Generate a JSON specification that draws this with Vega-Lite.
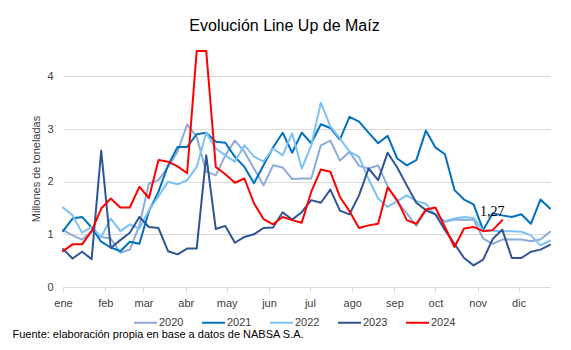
{
  "$schema": "https://vega.github.io/schema/vega-lite/v6.json",
  "width": 487,
  "height": 237,
  "autosize": {"type": "none"},
  "padding": {"left": 63, "top": 50, "right": 21, "bottom": 63},
  "background": "white",
  "config": {
    "font": "Liberation Sans",
    "view": {"stroke": null},
    "axis": {"labelFont": "Liberation Sans", "labelFontSize": 11, "labelColor": "#404040", "titleFont": "Liberation Sans", "titleFontWeight": "normal"},
    "legend": {"labelFont": "Liberation Sans", "labelFontSize": 11, "labelColor": "#404040"}
  },
  "title": {
    "text": "Evolución Line Up de Maíz",
    "font": "Liberation Sans",
    "fontSize": 16,
    "fontWeight": "normal",
    "color": "#000000",
    "anchor": "middle",
    "frame": "group",
    "baseline": "alphabetic",
    "dx": -22,
    "offset": 3
  },
  "data": {
    "values": [
      {"fecha": "2023-01-01", "2020": 1.08, "2021": 1.06, "2022": 1.51, "2023": 0.72, "2024": 0.68},
      {"fecha": "2023-01-08", "2020": 0.98, "2021": 1.30, "2022": 1.36, "2023": 0.54, "2024": 0.81},
      {"fecha": "2023-01-15", "2020": 0.90, "2021": 1.33, "2022": 1.03, "2023": 0.67, "2024": 0.81},
      {"fecha": "2023-01-22", "2020": 1.06, "2021": 1.13, "2022": 1.14, "2023": 0.53, "2024": 1.06},
      {"fecha": "2023-01-29", "2020": 0.95, "2021": 0.86, "2022": 0.95, "2023": 2.59, "2024": 1.49},
      {"fecha": "2023-02-05", "2020": 0.92, "2021": 0.75, "2022": 1.30, "2023": 0.74, "2024": 1.68},
      {"fecha": "2023-02-12", "2020": 0.65, "2021": 0.68, "2022": 1.06, "2023": 0.89, "2024": 1.51},
      {"fecha": "2023-02-19", "2020": 0.71, "2021": 0.86, "2022": 1.19, "2023": 1.03, "2024": 1.51},
      {"fecha": "2023-02-26", "2020": 1.17, "2021": 0.82, "2022": 1.11, "2023": 1.33, "2024": 1.90},
      {"fecha": "2023-03-05", "2020": 1.97, "2021": 1.44, "2022": 1.46, "2023": 1.14, "2024": 1.69},
      {"fecha": "2023-03-12", "2020": 2.03, "2021": 1.81, "2022": 1.72, "2023": 1.12, "2024": 2.41},
      {"fecha": "2023-03-19", "2020": 2.28, "2021": 2.31, "2022": 2.00, "2023": 0.68, "2024": 2.38},
      {"fecha": "2023-03-26", "2020": 2.57, "2021": 2.66, "2022": 1.95, "2023": 0.62, "2024": 2.29},
      {"fecha": "2023-04-02", "2020": 3.09, "2021": 2.66, "2022": 2.03, "2023": 0.73, "2024": 2.16},
      {"fecha": "2023-04-09", "2020": 2.85, "2021": 2.90, "2022": 2.28, "2023": 0.73, "2024": 4.48},
      {"fecha": "2023-04-16", "2020": 2.19, "2021": 2.93, "2022": 2.93, "2023": 2.50, "2024": 4.48},
      {"fecha": "2023-04-23", "2020": 2.12, "2021": 2.76, "2022": 2.63, "2023": 1.10, "2024": 2.28},
      {"fecha": "2023-04-30", "2020": 2.50, "2021": 2.74, "2022": 2.50, "2023": 1.16, "2024": 2.14},
      {"fecha": "2023-05-07", "2020": 2.78, "2021": 2.47, "2022": 2.38, "2023": 0.84, "2024": 1.98},
      {"fecha": "2023-05-14", "2020": 2.57, "2021": 2.28, "2022": 2.69, "2023": 0.95, "2024": 2.06},
      {"fecha": "2023-05-21", "2020": 2.25, "2021": 1.97, "2022": 2.48, "2023": 1.00, "2024": 1.59},
      {"fecha": "2023-05-28", "2020": 1.93, "2021": 2.31, "2022": 2.38, "2023": 1.12, "2024": 1.29},
      {"fecha": "2023-06-04", "2020": 2.31, "2021": 2.65, "2022": 2.63, "2023": 1.13, "2024": 1.19},
      {"fecha": "2023-06-11", "2020": 2.27, "2021": 2.93, "2022": 2.50, "2023": 1.42, "2024": 1.33},
      {"fecha": "2023-06-18", "2020": 2.05, "2021": 2.55, "2022": 2.92, "2023": 1.28, "2024": 1.27},
      {"fecha": "2023-06-25", "2020": 2.06, "2021": 2.93, "2022": 2.25, "2023": 1.42, "2024": 1.22},
      {"fecha": "2023-07-02", "2020": 2.06, "2021": 2.73, "2022": 2.69, "2023": 1.65, "2024": 1.81},
      {"fecha": "2023-07-09", "2020": 2.69, "2021": 3.09, "2022": 3.50, "2023": 1.60, "2024": 2.23},
      {"fecha": "2023-07-16", "2020": 2.78, "2021": 3.02, "2022": 3.05, "2023": 1.85, "2024": 2.19},
      {"fecha": "2023-07-23", "2020": 2.40, "2021": 2.80, "2022": 2.82, "2023": 1.45, "2024": 1.71},
      {"fecha": "2023-07-30", "2020": 2.57, "2021": 3.23, "2022": 2.57, "2023": 1.38, "2024": 1.44},
      {"fecha": "2023-08-06", "2020": 2.30, "2021": 3.14, "2022": 2.47, "2023": 1.74, "2024": 1.12},
      {"fecha": "2023-08-13", "2020": 2.25, "2021": 2.93, "2022": 2.05, "2023": 2.25, "2024": 1.17},
      {"fecha": "2023-08-20", "2020": 2.31, "2021": 2.73, "2022": 1.68, "2023": 2.03, "2024": 1.20},
      {"fecha": "2023-08-27", "2020": 1.91, "2021": 2.87, "2022": 1.52, "2023": 2.55, "2024": 1.89},
      {"fecha": "2023-09-03", "2020": 1.62, "2021": 2.44, "2022": 1.63, "2023": 2.27, "2024": 1.65},
      {"fecha": "2023-09-10", "2020": 1.40, "2021": 2.31, "2022": 1.74, "2023": 1.93, "2024": 1.27},
      {"fecha": "2023-09-17", "2020": 1.16, "2021": 2.41, "2022": 1.63, "2023": 1.60, "2024": 1.20},
      {"fecha": "2023-09-24", "2020": 1.45, "2021": 2.97, "2022": 1.58, "2023": 1.46, "2024": 1.47},
      {"fecha": "2023-10-01", "2020": 1.38, "2021": 2.65, "2022": 1.37, "2023": 1.38, "2024": 1.51},
      {"fecha": "2023-10-08", "2020": 1.24, "2021": 2.52, "2022": 1.25, "2023": 1.08, "2024": 1.14},
      {"fecha": "2023-10-15", "2020": 1.28, "2021": 1.84, "2022": 1.30, "2023": 0.82, "2024": 0.76},
      {"fecha": "2023-10-22", "2020": 1.27, "2021": 1.66, "2022": 1.33, "2023": 0.55, "2024": 1.11},
      {"fecha": "2023-10-29", "2020": 1.28, "2021": 1.57, "2022": 1.31, "2023": 0.41, "2024": 1.14},
      {"fecha": "2023-11-05", "2020": 0.92, "2021": 1.08, "2022": 1.07, "2023": 0.52, "2024": 1.06},
      {"fecha": "2023-11-12", "2020": 0.82, "2021": 1.40, "2022": 1.07, "2023": 0.91, "2024": 1.08},
      {"fecha": "2023-11-19", "2020": 0.90, "2021": 1.36, "2022": 1.06, "2023": 1.09, "2024": 1.27},
      {"fecha": "2023-11-26", "2020": 0.90, "2021": 1.33, "2022": 1.06, "2023": 0.55},
      {"fecha": "2023-12-03", "2020": 0.90, "2021": 1.38, "2022": 1.05, "2023": 0.55},
      {"fecha": "2023-12-10", "2020": 0.87, "2021": 1.20, "2022": 0.98, "2023": 0.67},
      {"fecha": "2023-12-17", "2020": 0.90, "2021": 1.66, "2022": 0.79, "2023": 0.71},
      {"fecha": "2023-12-24", "2020": 1.05, "2021": 1.49, "2022": 0.88, "2023": 0.80}
    ]
  },
  "transform": [
    {"fold": ["2020", "2021", "2022", "2023", "2024"], "as": ["anio", "valor"]},
    {"filter": "isValid(datum.valor)"}
  ],
  "layer": [
    {
      "mark": {"type": "line", "clip": false, "strokeJoin": "round", "strokeCap": "round"},
      "encoding": {
        "x": {
          "field": "fecha",
          "type": "temporal",
          "scale": {
            "type": "utc",
            "domain": [
              {"year": 2023, "month": 1, "date": 1, "utc": true},
              {"year": 2023, "month": 12, "date": 24, "utc": true}
            ]
          },
          "axis": {
            "values": [
              {"year": 2023, "month": 1, "date": 1, "utc": true},
              {"year": 2023, "month": 2, "date": 1, "utc": true},
              {"year": 2023, "month": 3, "date": 1, "utc": true},
              {"year": 2023, "month": 4, "date": 1, "utc": true},
              {"year": 2023, "month": 5, "date": 1, "utc": true},
              {"year": 2023, "month": 6, "date": 1, "utc": true},
              {"year": 2023, "month": 7, "date": 1, "utc": true},
              {"year": 2023, "month": 8, "date": 1, "utc": true},
              {"year": 2023, "month": 9, "date": 1, "utc": true},
              {"year": 2023, "month": 10, "date": 1, "utc": true},
              {"year": 2023, "month": 11, "date": 1, "utc": true},
              {"year": 2023, "month": 12, "date": 1, "utc": true}
            ],
            "labelExpr": "['ene','feb','mar','abr','may','jun','jul','ago','sep','oct','nov','dic'][utcmonth(datum.value)]",
            "grid": false,
            "domainColor": "#d9d9d9",
            "tickColor": "#d9d9d9",
            "tickSize": 5,
            "labelPadding": 5,
            "labelFlush": false,
            "labelOverlap": false,
            "title": "Fuente: elaboración propia en base a datos de NABSA S.A.",
            "titleAnchor": "start",
            "titleAlign": "left",
            "titleBaseline": "alphabetic",
            "titleX": -51,
            "titleY": 50,
            "titleFontSize": 11,
            "titleColor": "#000000"
          }
        },
        "y": {
          "field": "valor",
          "type": "quantitative",
          "scale": {"domain": [0, 4.5], "nice": false, "zero": true},
          "axis": {
            "values": [0, 1, 2, 3, 4],
            "domain": false,
            "ticks": false,
            "labelPadding": 10,
            "grid": true,
            "gridColor": "#d9d9d9",
            "gridWidth": 1,
            "title": "Millones de toneladas",
            "titleFontSize": 11,
            "titleColor": "#404040",
            "titlePadding": 5
          }
        },
        "color": {
          "field": "anio",
          "type": "nominal",
          "scale": {
            "domain": ["2020", "2021", "2022", "2023", "2024"],
            "range": ["#8eaadb", "#0070c0", "#7cc2f4", "#2f5597", "#ff0000"]
          },
          "legend": {
            "orient": "none",
            "legendX": 70,
            "legendY": 260,
            "direction": "horizontal",
            "title": null,
            "symbolType": "stroke",
            "symbolSize": 529,
            "labelOffset": 1,
            "columnPadding": 14,
            "padding": 0
          }
        },
        "strokeWidth": {
          "field": "anio",
          "type": "nominal",
          "scale": {
            "domain": ["2020", "2021", "2022", "2023", "2024"],
            "range": [2, 2, 2, 2, 3.5]
          }
        }
      }
    },
    {
      "transform": [
        {"filter": "datum.anio == '2024' && utcmonth(datum.fecha) == 10 && utcdate(datum.fecha) == 19"}
      ],
      "mark": {"type": "text", "font": "Liberation Sans Narrow", "fontSize": 14, "color": "#000000", "dx": -10, "dy": -8, "baseline": "middle", "align": "center"},
      "encoding": {
        "x": {"field": "fecha", "type": "temporal"},
        "y": {"field": "valor", "type": "quantitative"},
        "text": {"value": "1,27"}
      }
    }
  ],
  "resolve": {"legend": {"color": "shared"}}
}
